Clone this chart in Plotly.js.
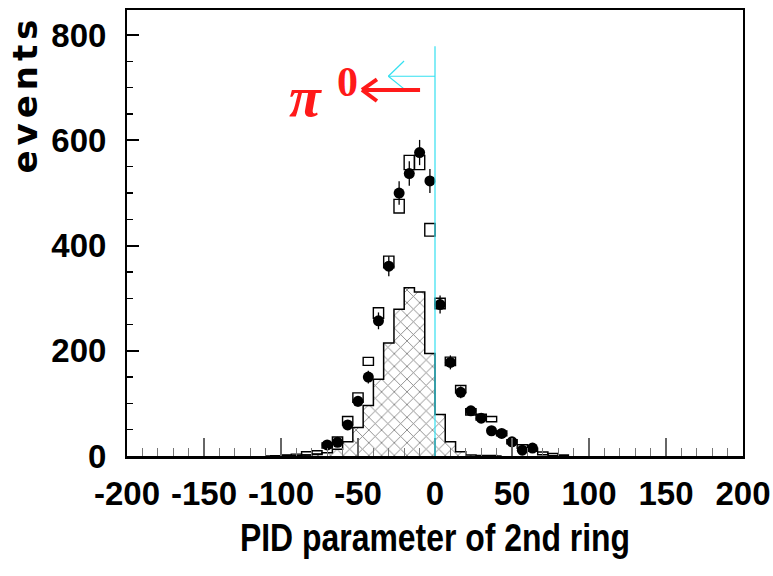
<!DOCTYPE html>
<html>
<head>
<meta charset="utf-8">
<script src="https://cdn.plot.ly/plotly-3.0.1.min.js"></script>
<style>
  body { margin: 0; padding: 0; background: #fff; }
  #chart { width: 773px; height: 576px; }
  .xtitle { transform-box: fill-box; transform-origin: center; transform: scaleX(0.84); }
</style>
</head>
<body>
<div id="chart"></div>
<script>
// Bin centres (bin width 400/60 units)
const binWidth = 6.667;
const histX = [-110, -103.3, -96.7, -90, -83.3, -76.7, -70, -63.3, -56.7, -50, -43.3, -36.7, -30, -23.3, -16.7, -10, -3.3, 3.3, 10, 16.7, 23.3, 30, 36.7, 43.3];
const histY = [0, 0.5, 1, 1, 2, 3, 6, 13, 27, 54, 96, 146, 215, 279, 320, 312, 195, 79, 27, 8, 2, 1, 1, 0];

// Monte Carlo (open boxes): value and half-height error
const mcX   = [-96.7, -90, -83.3, -76.7, -70, -63.3, -56.7, -50, -43.3, -36.7, -30, -23.3, -16.7, -10, -3.3, 3.3, 10, 16.7, 23.3, 30, 36.7, 43.3, 50, 56.7, 63.3, 70, 76.7, 83.3];
const mcY   = [1, 2, 5, 7, 20, 30, 67, 111, 180, 272, 369, 475, 558, 558, 430, 290, 180, 127, 84, 74, 70, 43, 27, 18, 12, 5, 3, 1];
const mcErr = [1, 1.5, 3, 3, 5, 6, 8, 9, 7.6, 10, 11, 13, 13.5, 13.5, 12, 10, 8, 7, 6, 5.5, 5, 4.5, 4, 3.5, 3, 2.5, 2, 1];

// Data (filled circles) with error bars
const dataX   = [-70, -63.3, -56.7, -50, -43.3, -36.7, -30, -23.3, -16.7, -10, -3.3, 3.3, 10, 16.7, 23.3, 30, 36.7, 43.3, 50, 56.7, 63.3];
const dataY   = [21, 26, 59, 104, 150, 257, 361, 500, 537, 577, 523, 288, 178, 121, 86, 72, 48, 43, 27, 11, 15];
const dataErr = [4.6, 5.1, 7.7, 10.2, 12.2, 16, 19, 22.4, 23.2, 24, 22.9, 17, 13.3, 11, 9.3, 8.5, 6.9, 6.6, 5.2, 3.3, 3.9];

const xTicks = [-200, -150, -100, -50, 0, 50, 100, 150, 200];
const yTicks = [0, 200, 400, 600, 800];

const mcBase = mcY.map((v, i) => v - mcErr[i]);
const mcHeight = mcErr.map(e => 2 * e);

const traces = [
  {
    type: 'bar', x: histX, y: histY, width: binWidth,
    marker: { color: 'white', line: { width: 0 },
      pattern: { shape: 'x', size: 9, solidity: 0.18, fgcolor: 'black', bgcolor: 'white', fillmode: 'overlay' } },
    hoverinfo: 'skip', showlegend: false
  },
  {
    type: 'scatter', mode: 'lines', x: histX, y: histY,
    line: { shape: 'hvh', color: 'black', width: 1.5 },
    hoverinfo: 'skip', showlegend: false
  },
  {
    type: 'bar', x: mcX, y: mcHeight, base: mcBase, width: binWidth,
    marker: { color: 'rgba(255,255,255,0)', line: { color: 'black', width: 1.4 } },
    showlegend: false
  },
  {
    type: 'scatter', mode: 'markers', x: dataX, y: dataY,
    marker: { color: 'black', size: 11, symbol: 'circle' },
    error_y: { type: 'data', array: dataErr, visible: true, color: 'black', thickness: 1.3, width: 0 },
    showlegend: false
  }
];

const fontTick = { family: 'Liberation Sans, Arial, sans-serif', size: 33, color: 'black', weight: 'bold' };

const layout = {
  width: 773, height: 576,
  margin: { l: 127, r: 30, t: 10, b: 120, pad: 0 },
  paper_bgcolor: 'white', plot_bgcolor: 'white',
  barmode: 'overlay', bargap: 0,
  xaxis: {
    range: [-200, 200], tickmode: 'array', tickvals: xTicks, ticktext: xTicks.map(String),
    ticks: 'inside', ticklen: 18, tickwidth: 1.5, tickcolor: '#666',
    minor: { dtick: 10, tick0: -200, ticks: 'inside', ticklen: 8, tickwidth: 1.3, tickcolor: '#777', showgrid: false },
    showline: true, linewidth: 2.5, linecolor: 'black', mirror: true,
    showgrid: false, zeroline: false, ticklabelstandoff: 7,
    tickfont: fontTick,
    title: { text: 'PID parameter of 2nd ring', standoff: 14,
      font: { family: 'Liberation Sans, Arial, sans-serif', size: 38, color: 'black', weight: 'bold' } }
  },
  yaxis: {
    range: [0, 848], tickmode: 'array', tickvals: yTicks, ticktext: yTicks.map(String),
    ticks: 'inside', ticklen: 12, tickwidth: 2, tickcolor: 'black',
    minor: { dtick: 50, tick0: 0, ticks: 'inside', ticklen: 6, tickwidth: 1.3, tickcolor: 'black', showgrid: false },
    showline: true, linewidth: 2, linecolor: 'black', mirror: true,
    showgrid: false, zeroline: false, ticklabelstandoff: 12,
    tickfont: fontTick
  },
  shapes: [
    // cyan vertical cut line at 0
    { type: 'line', xref: 'x', yref: 'y', x0: 0, x1: 0, y0: 0, y1: 779, line: { color: '#33e0f0', width: 1.2 }, layer: 'above' },
    // cyan arrow
    { type: 'line', xref: 'x', yref: 'y', x0: 0, x1: -30.3, y0: 722, y1: 722, line: { color: '#33e0f0', width: 1.2 } },
    { type: 'line', xref: 'x', yref: 'y', x0: -30.3, x1: -20.1, y0: 722, y1: 751, line: { color: '#33e0f0', width: 1.2 } },
    { type: 'line', xref: 'x', yref: 'y', x0: -30.3, x1: -20.1, y0: 722, y1: 698, line: { color: '#33e0f0', width: 1.2 } },
    // red arrow
    { type: 'line', xref: 'x', yref: 'y', x0: -9.7, x1: -47.4, y0: 696, y1: 696, line: { color: '#ff1a1a', width: 4 } },
    { type: 'line', xref: 'x', yref: 'y', x0: -47.4, x1: -37.7, y0: 696, y1: 716, line: { color: '#ff1a1a', width: 4 } },
    { type: 'line', xref: 'x', yref: 'y', x0: -47.4, x1: -37.7, y0: 696, y1: 675, line: { color: '#ff1a1a', width: 4 } }
  ],
  annotations: [
    { xref: 'paper', yref: 'paper', x: -0.1664, y: 0.8117, xanchor: 'center', yanchor: 'middle',
      textangle: -90, showarrow: false,
      text: '<span style="letter-spacing:5px">events</span>',
      font: { family: 'DejaVu Sans, sans-serif', size: 34, color: 'black', weight: 'bold' } },
    { xref: 'x', yref: 'y', x: -84.4, y: 684, text: '<b><i>π</i></b>', showarrow: false,
      font: { family: 'Liberation Serif, Times New Roman, serif', size: 58, color: '#ff1a1a' } },
    { xref: 'x', yref: 'y', x: -56.5, y: 711, text: '<b>0</b>', showarrow: false,
      font: { family: 'Liberation Serif, Times New Roman, serif', size: 42, color: '#ff1a1a' } }
  ]
};

Plotly.newPlot('chart', traces, layout, { staticPlot: true, displayModeBar: false });
</script>
</body>
</html>
